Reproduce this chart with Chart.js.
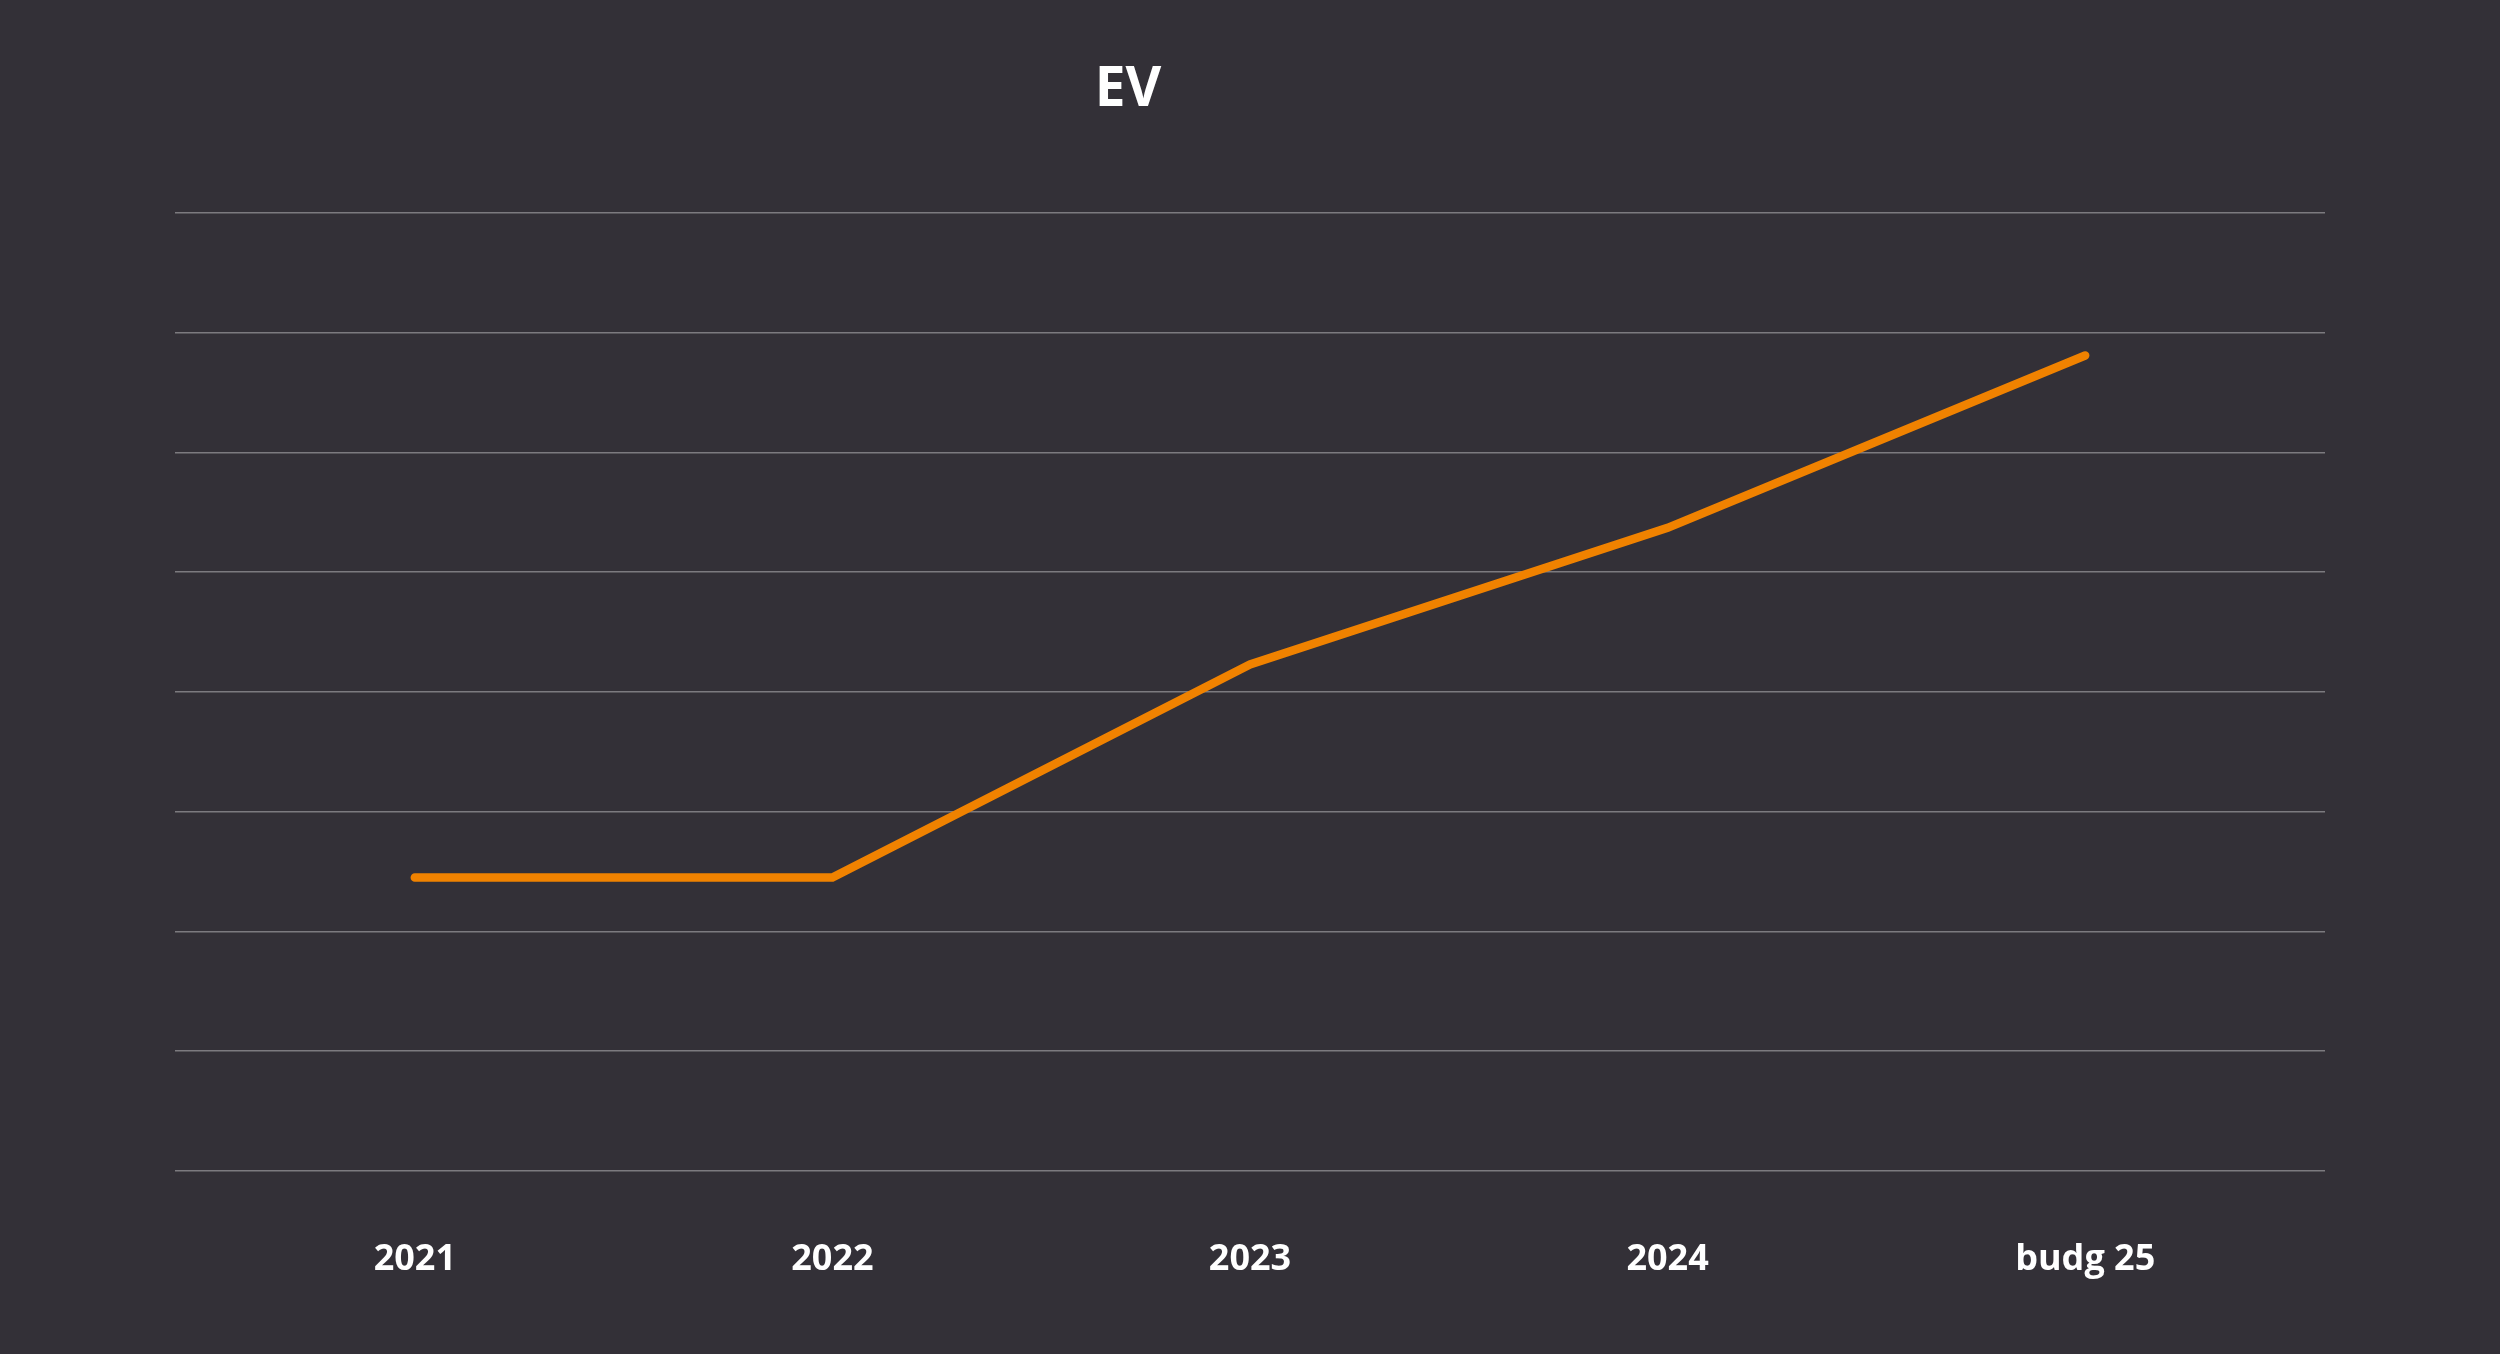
<!DOCTYPE html>
<html>
<head>
<meta charset="utf-8">
<title>EV</title>
<script src="https://cdn.jsdelivr.net/npm/chart.js@4.4.1/dist/chart.umd.min.js"></script>
<style>
  html, body { margin: 0; padding: 0; background: #333037; overflow: hidden; }
  #wrap { width: 2500px; height: 1354px; position: relative; }
</style>
</head>
<body>
<div id="wrap"><canvas id="ev_chart"></canvas></div>
<script>
// values (no axis labels shown, so units are arbitrary)
var categories = ['2021', '2022', '2023', '2024', 'budg 25'];
var evValues = [24.5, 24.5, 42.3, 53.7, 68.1];
var chartTitle = 'EV';
var yMin = 0;
var yMax = 80;
var yStep = 10;

var gridColor = '#7c7a7f';
var lineColor = '#f08200';

// title is drawn by hand so it can sit a bit left of centre like the original
var titlePlugin = {
  id: 'manualTitle',
  afterDraw: function(chart) {
    var ctx = chart.ctx;
    ctx.save();
    ctx.fillStyle = '#ffffff';
    ctx.font = 'bold 55px "Open Sans"';
    ctx.textAlign = 'center';
    ctx.textBaseline = 'alphabetic';
    ctx.fillText(chartTitle, 1128, 106);
    ctx.restore();
  }
};

new Chart(document.getElementById('ev_chart'), {
  type: 'line',
  data: {
    labels: categories,
    datasets: [
      {
        label: chartTitle,
        data: evValues,
        borderColor: lineColor,
        borderWidth: 8.5,
        borderCapStyle: 'round',
        borderJoinStyle: 'miter',
        pointRadius: 0,
        pointHoverRadius: 0,
        tension: 0,
        yAxisID: 'y'
      }
    ]
  },
  options: {
    responsive: true,
    maintainAspectRatio: false,
    animation: false,
    layout: {
      padding: { top: 213, left: 175, right: 175, bottom: 14 }
    },
    plugins: {
      legend: { display: false },
      title: { display: false },
      tooltip: { enabled: false }
    },
    scales: {
      x: {
        offset: true,
        grid: { display: false },
        border: { display: false },
        ticks: {
          color: '#ffffff',
          padding: 59,
          maxRotation: 0,
          font: { family: '"Open Sans"', size: 36, weight: 'bold' }
        }
      },
      y: {
        position: 'left',
        min: yMin,
        max: yMax,
        border: { display: false },
        grid: {
          color: gridColor,
          lineWidth: 1.5,
          drawTicks: true,
          tickLength: 31,
          tickColor: gridColor
        },
        ticks: { display: false, stepSize: yStep }
      },
      // second axis only to push the grid lines out on the right side
      y2: {
        position: 'right',
        min: yMin,
        max: yMax,
        border: { display: false },
        grid: {
          color: gridColor,
          lineWidth: 1.5,
          drawOnChartArea: false,
          drawTicks: true,
          tickLength: 31,
          tickColor: gridColor
        },
        ticks: { display: false, stepSize: yStep }
      }
    }
  },
  plugins: [titlePlugin]
});
</script>
</body>
</html>
